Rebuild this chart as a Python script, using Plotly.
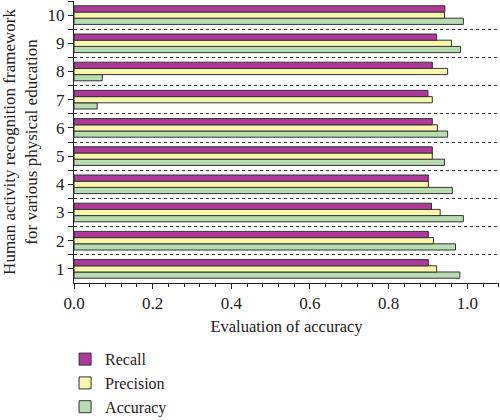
import plotly.graph_objects as go

# frameworks 1..10 on the y axis
categories = [1, 2, 3, 4, 5, 6, 7, 8, 9, 10]
recall = [0.901, 0.901, 0.909, 0.901, 0.911, 0.911, 0.900, 0.911, 0.922, 0.943]
precision = [0.922, 0.914, 0.931, 0.901, 0.911, 0.924, 0.911, 0.950, 0.960, 0.942]
accuracy = [0.981, 0.970, 0.990, 0.962, 0.942, 0.950, 0.059, 0.072, 0.983, 0.990]

serif = "Liberation Serif"

fig = go.Figure()

# plotly stacks horizontal groups bottom-up, so accuracy goes first
series = [
    ("Accuracy", accuracy, "#B7DDB1"),
    ("Precision", precision, "#FAF6AC"),
    ("Recall", recall, "#AE399B"),
]
for name, vals, color in series:
    fig.add_trace(go.Bar(
        y=categories, x=vals, name=name, orientation="h",
        marker=dict(color=color, line=dict(color="#333333", width=1)),
        legendgroup=name,
    ))

fig.update_layout(
    width=500, height=420,
    margin=dict(l=74, r=1, t=1, b=137, autoexpand=False),
    paper_bgcolor="white", plot_bgcolor="white",
    barmode="group", bargap=0.34, bargroupgap=0,
    font=dict(family=serif, size=17, color="#222222"),
    legend=dict(
        traceorder="reversed", tracegroupgap=8,
        x=-0.021, xanchor="left", y=-0.21, yanchor="top",
        font=dict(family=serif, size=16, color="#222222"),
        bgcolor="rgba(0,0,0,0)",
    ),
)

fig.update_xaxes(
    range=[0, 1.0806], tickvals=[0, 0.2, 0.4, 0.6, 0.8, 1.0],
    tickformat=".1f", ticks="outside", ticklen=5, tickcolor="#222",
    showline=True, linecolor="#222", linewidth=1, showgrid=False, zeroline=False,
    minor=dict(dtick=0.04, tick0=0, ticks="outside", ticklen=3, tickcolor="#222"),
    title=dict(text="Evaluation of accuracy", standoff=8, font=dict(size=16.5)),
    tickfont=dict(size=17), automargin=False,
)

fig.update_yaxes(
    range=[0.5, 10.5], tickvals=categories, ticks="outside", ticklen=5, tickcolor="#222",
    showline=True, linecolor="#222", linewidth=1, showgrid=False, zeroline=False,
    minor=dict(tickvals=[1.5, 2.5, 3.5, 4.5, 5.5, 6.5, 7.5, 8.5, 9.5, 10.5],
               ticks="outside", ticklen=5, tickcolor="#222",
               showgrid=True, gridcolor="#333333", gridwidth=1.2, griddash="dot"),
    title=dict(text="Human activity recognition framework<br>for various physical education",
               standoff=8, font=dict(size=17)),
    tickfont=dict(size=17), automargin=False,
)

# drop the browser's default 8px body margin so the figure sits flush in the window
fig.write_html("out.html", config={"displayModeBar": False},
               post_script="document.body.style.margin='0';")
